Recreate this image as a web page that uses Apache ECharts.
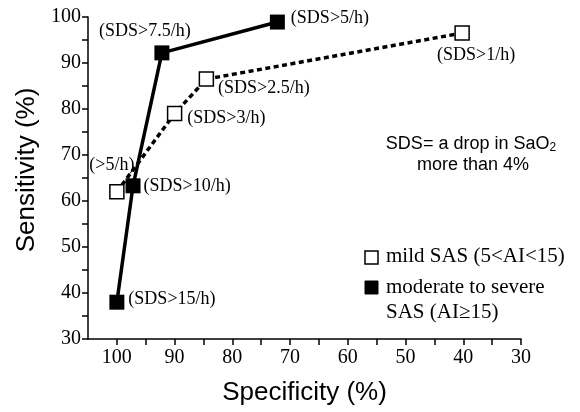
<!DOCTYPE html>
<html>
<head>
<meta charset="utf-8">
<script src="https://cdn.jsdelivr.net/npm/echarts@6/dist/echarts.min.js"></script>
<style>html,body{margin:0;padding:0;background:#fff}#c{width:580px;height:412px}</style>
</head>
<body>
<div id="c"></div>
<script>
// Data
const specMild = [100, 90, 84.5, 40.2];
const sensMild = [62, 79, 86.5, 96.5];
const labelsMild = ['(>5/h)', '(SDS>3/h)', '(SDS>2.5/h)', '(SDS>1/h)'];

const specSevere = [100, 97.2, 92.2, 72.2];
const sensSevere = [38, 63.3, 92.2, 98.9];
const labelsSevere = ['(SDS>15/h)', '(SDS>10/h)', '(SDS>7.5/h)', '(SDS>5/h)'];

const xTickValues = [30, 35, 40, 45, 50, 55, 60, 65, 70, 75, 80, 85, 90, 95, 100];
const xLabelValues = [30, 40, 50, 60, 70, 80, 90, 100];
const yTickValues = [30, 35, 40, 45, 50, 55, 60, 65, 70, 75, 80, 85, 90, 95, 100];
const yLabelValues = [30, 40, 50, 60, 70, 80, 90, 100];

const legendNames = ['mild SAS (5<AI<15)', 'moderate to severe\nSAS (AI\u226515)'];
const noteLine1 = 'SDS= a drop in SaO';
const noteSub = '2';
const noteLine2 = 'more than 4%';

// label placement (style, not data)
const mildLabelCfg = [
  {position: 'top', distance: 5, offset: [-5, -5]},
  {position: 'right', distance: 5, offset: [0, 5]},
  {position: 'right', distance: 4, offset: [0, 9]},
  {position: 'bottom', distance: 5, offset: [14, 0]}
];
const severeLabelCfg = [
  {position: 'right', distance: 4, offset: [0, -3]},
  {position: 'right', distance: 3, offset: [0, 0]},
  {position: 'top', distance: 5, offset: [-17, 0]},
  {position: 'right', distance: 6, offset: [0, -4]}
];

const serif = 'Liberation Serif';
const sans = 'Liberation Sans';

function buildData(xs, ys, labels, cfg) {
  return xs.map((x, i) => ({
    value: [x, ys[i]],
    name: labels[i],
    label: Object.assign({show: true, formatter: labels[i]}, cfg[i])
  }));
}

const chart = echarts.init(document.getElementById('c'), null, {renderer: 'canvas'});
chart.setOption({
  animation: false,
  backgroundColor: '#fff',
  grid: {left: 88, top: 17, right: 59, bottom: 73, containLabel: false},
  xAxis: {
    type: 'value', inverse: true, min: 30, max: 105, interval: 5,
    axisLine: {show: true, onZero: false, lineStyle: {color: '#000', width: 1.5}},
    axisTick: {show: true, length: 6, lineStyle: {color: '#000', width: 1.5}, customValues: xTickValues},
    axisLabel: {fontFamily: serif, fontSize: 20, color: '#000', margin: 9, customValues: xLabelValues},
    splitLine: {show: false},
    name: 'Specificity (%)', nameLocation: 'middle', nameGap: 41,
    nameTextStyle: {fontFamily: sans, fontSize: 26, color: '#000'}
  },
  yAxis: {
    type: 'value', min: 30, max: 100, interval: 5,
    axisLine: {show: true, onZero: false, lineStyle: {color: '#000', width: 1.5}},
    axisTick: {show: true, length: 6, lineStyle: {color: '#000', width: 1.5}, customValues: yTickValues},
    axisLabel: {fontFamily: serif, fontSize: 20, color: '#000', margin: 7, customValues: yLabelValues},
    splitLine: {show: false},
    name: 'Sensitivity (%)', nameLocation: 'middle', nameGap: 47,
    nameTextStyle: {fontFamily: sans, fontSize: 26, color: '#000', padding: [0, 0, 0, 16]}
  },
  series: [
    {
      name: legendNames[0], type: 'line', z: 2,
      data: buildData(specMild, sensMild, labelsMild, mildLabelCfg),
      symbol: 'rect', symbolSize: 14, showAllSymbol: true,
      lineStyle: {color: '#000', width: 3.5, type: [5, 3.5]},
      itemStyle: {color: '#fff', borderColor: '#000', borderWidth: 1.5},
      label: {fontFamily: serif, fontSize: 18, color: '#000'}
    },
    {
      name: legendNames[1], type: 'line', z: 3,
      data: buildData(specSevere, sensSevere, labelsSevere, severeLabelCfg),
      symbol: 'rect', symbolSize: 15, showAllSymbol: true,
      lineStyle: {color: '#000', width: 3.5},
      itemStyle: {color: '#000', borderColor: '#000', borderWidth: 0},
      label: {fontFamily: serif, fontSize: 18, color: '#000'}
    }
  ],
  graphic: [
    {
      type: 'text', x: 471, y: 144,
      style: {
        text: '{a|' + noteLine1 + '}{s|' + noteSub + '}',
        align: 'center', verticalAlign: 'middle',
        rich: {
          a: {fontFamily: sans, fontSize: 18, color: '#000', lineHeight: 20},
          s: {fontFamily: sans, fontSize: 12, color: '#000', lineHeight: 20, padding: [8, 0, 0, 0]}
        }
      }
    },
    {
      type: 'text', x: 473, y: 165,
      style: {text: noteLine2, align: 'center', verticalAlign: 'middle', fontFamily: sans, fontSize: 18, fill: '#000'}
    },
    {type: 'rect', shape: {x: 365, y: 251, width: 13, height: 13}, style: {fill: '#fff', stroke: '#000', lineWidth: 1.5}},
    {type: 'text', left: 386, top: 246, style: {text: legendNames[0], fontFamily: serif, fontSize: 21, fill: '#000'}},
    {type: 'rect', shape: {x: 365, y: 281, width: 13, height: 13}, style: {fill: '#000', stroke: '#000', lineWidth: 1}},
    {type: 'text', left: 386, top: 275, style: {text: legendNames[1], fontFamily: serif, fontSize: 21, fill: '#000', lineHeight: 25}}
  ]
});
</script>
</body>
</html>
